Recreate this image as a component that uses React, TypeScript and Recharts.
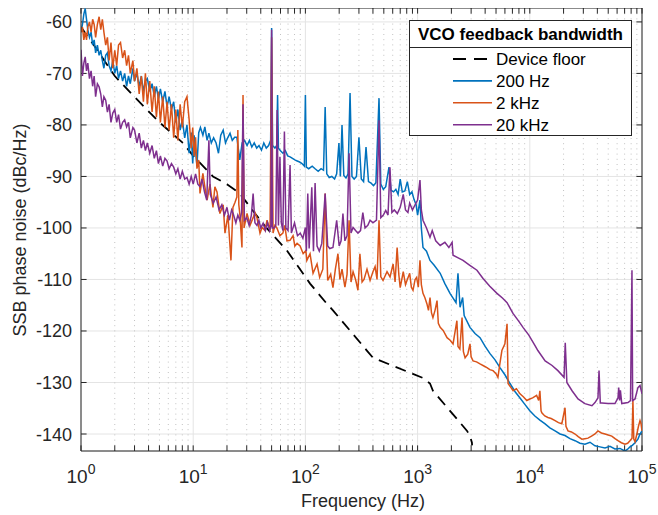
import React from 'react';
import { LineChart, Line, XAxis, YAxis, CartesianGrid, ReferenceLine, Legend } from 'recharts';

const FONT = "'Liberation Sans', Arial, Helvetica, sans-serif";
const AXIS_COLOR = '#262626';

// Axes
const decadeTicks = [1, 10, 100, 1000, 10000, 100000];
const minorMultipliers = [2, 3, 4, 5, 6, 7, 8, 9];
const dbTicks = [-140, -130, -120, -110, -100, -90, -80, -70, -60];
const dbDomain: [number, number] = [-143.3, -57.3];

const seriesNames = ['Device floor', '200 Hz', '2 kHz', '20 kHz'];
const seriesColors = ['#000000', '#0072BD', '#D95319', '#7E2F8E'];
const legendTitle = 'VCO feedback bandwidth';

// [frequency Hz, SSB phase noise dBc/Hz]
const deviceFloor: [number, number][] = [
  [1, -61], [1.3, -64.5], [2, -70.5], [3.2, -75.2], [5, -79.5], [8.1, -83.5], [10, -86], [15, -90], [20, -91.5],
  [26, -93.3], [35, -97], [45, -100], [68, -104.3], [110, -110.8], [155, -114.7], [176, -116],
  [353, -123.8], [400, -125.2], [1110, -129.1], [1290, -130.2], [1370, -131.6], [2760, -139.4],
  [2930, -140.4], [3050, -141.7], [3060, -142.2],
];

const bw200: [number, number][] = [
  [1.00, -62.0], [1.03, -60.5], [1.06, -58.5], [1.09, -57.4], [1.12, -59.5], [1.15, -61.5], [1.19, -63.0], [1.23, -62.0],
  [1.27, -64.5], [1.31, -63.5], [1.35, -66.0], [1.40, -64.5], [1.45, -66.5], [1.50, -65.5], [1.55, -67.5], [1.60, -69.0],
  [1.66, -66.5], [1.72, -66.0], [1.78, -68.5], [1.85, -69.5], [1.92, -67.5], [2.00, -70.0], [2.08, -68.5], [2.16, -71.0],
  [2.25, -69.5], [2.35, -71.5], [2.45, -70.0], [2.55, -72.5], [2.65, -70.5], [2.75, -72.0], [2.90, -69.0], [3.00, -71.5],
  [3.15, -70.0], [3.30, -72.5], [3.45, -70.5], [3.60, -73.5], [3.75, -71.5], [3.90, -71.0], [4.10, -73.5], [4.30, -72.0],
  [4.50, -74.5], [4.70, -72.5], [4.90, -75.0], [5.10, -73.0], [5.35, -75.5], [5.60, -73.5], [5.85, -76.5], [6.10, -74.5],
  [6.40, -77.0], [6.70, -75.5], [7.00, -79.5], [7.30, -77.0], [7.65, -81.0], [8.00, -79.0], [8.40, -82.5], [8.80, -80.0],
  [9.20, -85.5], [9.60, -81.5], [9.90, -87.5], [10.2, -82.0], [10.5, -85.0], [10.8, -88.0], [11.2, -81.5], [11.6, -80.5],
  [12.2, -82.0], [12.7, -80.4], [13.3, -83.0], [13.8, -81.6], [14.5, -83.5], [15.2, -82.5], [16.0, -83.5], [16.8, -85.5],
  [17.6, -82.0], [18.5, -81.0], [19.4, -83.5], [20.3, -82.5], [21.3, -81.6], [22.3, -83.0], [23.4, -82.4], [24.5, -82.4],
  [26.0, -86.8], [27.3, -83.5], [28.7, -83.0], [30.2, -84.0], [31.7, -83.0], [33.3, -84.3], [35.0, -83.5], [36.8, -84.5],
  [38.6, -84.0], [40.6, -84.9], [42.6, -83.5], [44.8, -84.5], [47.0, -84.0], [49.0, -83.0], [50.0, -61.2], [51.0, -84.0],
  [53.5, -84.5], [55.5, -84.0], [56.5, -74.2], [57.5, -84.5], [60.0, -85.0], [63.0, -85.5], [66.2, -85.0], [69.5, -86.0],
  [73.0, -86.2], [76.7, -86.5], [80.5, -86.8], [84.5, -87.0], [88.8, -87.2], [93.2, -87.5], [97.9, -88.0], [100, -74.2],
  [102, -88.2], [107, -88.5], [115, -88.0], [122, -88.5], [130, -89.0], [138, -88.5], [145, -88.8], [150, -76.5],
  [155, -89.5], [163, -90.2], [172, -90.0], [182, -90.5], [190, -89.5], [199, -83.5], [205, -90.0], [212, -80.0],
  [220, -89.8], [230, -90.3], [240, -89.5], [250, -73.8], [260, -90.0], [272, -90.5], [285, -90.0], [300, -82.4],
  [315, -90.5], [330, -91.0], [347, -84.3], [365, -91.0], [385, -91.3], [405, -91.8], [425, -91.2], [453, -74.8],
  [470, -91.5], [495, -92.5], [520, -92.0], [556, -88.2], [580, -92.7], [610, -93.0], [640, -92.5], [670, -93.5],
  [700, -90.5], [730, -93.0], [770, -92.8], [810, -91.0], [850, -93.5], [890, -93.0], [930, -94.5], [970, -95.5],
  [1000, -97.5], [1050, -94.6], [1080, -100.0], [1117, -103.8], [1200, -104.5], [1290, -106.3], [1400, -107.2],
  [1590, -108.8], [1750, -110.8], [1945, -112.7], [2200, -114.5], [2290, -108.8], [2390, -115.4], [2520, -113.5],
  [2600, -117.0], [2930, -119.3], [3250, -120.5], [3600, -121.3], [4000, -123.0], [4420, -124.4], [4900, -125.6],
  [5420, -127.1], [6000, -128.5], [6660, -130.2], [7400, -131.8], [8180, -133.0], [9000, -134.2], [10000, -135.5],
  [11100, -136.5], [12300, -137.3], [13600, -138.0], [15100, -138.8], [16800, -139.4], [18600, -140.0], [20600, -140.3],
  [22800, -140.9], [25300, -141.3], [28000, -141.8], [31000, -142.0], [34400, -141.6], [38100, -142.3], [42200, -142.5],
  [46800, -142.7], [51800, -142.4], [57400, -142.9], [63600, -142.8], [70500, -143.3], [74000, -143.0], [78100, -142.5],
  [82000, -142.2], [86700, -141.7], [92000, -141.0], [96000, -140.0], [100000, -139.4],
];

const bw2k: [number, number][] = [
  [1.00, -62.0], [1.03, -61.0], [1.06, -63.5], [1.09, -62.0], [1.12, -63.5], [1.15, -61.0], [1.19, -60.0], [1.23, -62.0],
  [1.27, -59.5], [1.31, -60.5], [1.35, -63.0], [1.40, -60.5], [1.45, -59.0], [1.50, -61.5], [1.55, -59.5], [1.60, -62.0],
  [1.66, -64.5], [1.72, -63.0], [1.78, -67.5], [1.85, -64.0], [1.92, -69.0], [2.00, -65.5], [2.08, -68.5], [2.16, -64.5],
  [2.25, -64.0], [2.35, -67.0], [2.45, -65.5], [2.55, -68.5], [2.65, -66.5], [2.75, -70.0], [2.90, -67.5], [3.00, -71.5],
  [3.15, -69.0], [3.30, -74.0], [3.45, -70.5], [3.60, -75.5], [3.75, -70.0], [3.90, -76.0], [4.10, -71.5], [4.30, -77.5],
  [4.50, -72.5], [4.70, -78.5], [4.90, -73.5], [5.10, -79.5], [5.35, -74.5], [5.60, -80.5], [5.85, -75.5], [6.10, -81.0],
  [6.40, -76.0], [6.70, -82.5], [7.00, -77.0], [7.30, -83.0], [7.65, -76.0], [8.00, -80.5], [8.40, -75.5], [8.80, -74.5],
  [9.20, -79.0], [9.60, -84.5], [9.90, -80.5], [10.2, -86.0], [10.5, -82.4], [10.8, -88.5], [11.2, -86.8], [11.5, -93.3],
  [12.2, -89.4], [12.7, -92.0], [13.3, -94.6], [14.1, -91.5], [15.0, -96.0], [15.6, -92.0], [16.3, -93.0], [17.3, -97.2],
  [18.5, -95.5], [19.2, -101.0], [20.4, -97.5], [21.7, -106.3], [22.6, -96.0], [23.6, -95.0], [24.5, -94.0], [25.0, -81.0],
  [25.5, -95.5], [26.1, -97.5], [27.2, -103.8], [27.8, -74.2], [28.4, -100.0], [29.0, -99.0], [30.2, -97.2], [32.1, -99.5],
  [34.2, -98.0], [35.5, -97.0], [37.0, -98.0], [39.4, -101.0], [41.1, -99.9], [43.7, -100.5], [45.5, -98.5], [48.4, -100.5],
  [50.0, -63.0], [51.5, -101.0], [53.5, -99.5], [55.7, -100.0], [59.3, -101.5], [63.0, -101.0], [65.5, -99.5], [68.5, -102.5],
  [72.9, -102.4], [77.6, -101.5], [80.5, -103.5], [84.3, -103.0], [89.7, -103.5], [95.5, -105.0], [101, -104.4], [103, -106.3],
  [110, -105.0], [117, -108.8], [127, -107.0], [134, -109.6], [143, -108.0], [150, -93.3], [158, -110.2], [168, -109.0],
  [176, -111.6], [185, -108.0], [195, -105.0], [203, -110.0], [212, -108.0], [225, -111.5], [235, -109.0], [245, -98.5],
  [255, -110.5], [266, -108.5], [280, -110.0], [294, -112.1], [306, -105.0], [320, -110.5], [333, -110.0], [354, -108.0],
  [377, -110.2], [400, -108.5], [418, -107.5], [435, -110.0], [453, -98.5], [470, -109.5], [492, -110.2], [534, -108.5],
  [568, -109.5], [605, -107.0], [630, -110.5], [657, -103.8], [680, -109.0], [700, -111.6], [745, -108.5], [780, -111.0],
  [810, -110.0], [850, -108.8], [880, -111.5], [910, -112.1], [950, -110.0], [980, -109.6], [1015, -111.5], [1050, -106.3],
  [1080, -111.0], [1117, -112.7], [1160, -113.5], [1210, -114.7], [1250, -116.0], [1290, -113.5], [1330, -116.5],
  [1370, -117.4], [1430, -116.0], [1490, -114.1], [1530, -118.5], [1590, -119.3], [1690, -119.9], [1830, -121.3],
  [1950, -121.8], [2070, -122.5], [2240, -118.0], [2290, -123.0], [2380, -123.5], [2490, -117.4], [2560, -124.0],
  [2650, -125.2], [2800, -124.5], [2930, -122.5], [3000, -125.0], [3120, -125.8], [3350, -126.0], [3600, -126.4],
  [3900, -126.8], [4150, -127.1], [4400, -127.5], [4700, -127.7], [5000, -128.3], [5200, -129.0], [5400, -126.5],
  [5640, -123.8], [6000, -122.5], [6270, -118.6], [6350, -125.0], [6400, -130.2], [6800, -131.0], [7100, -131.6],
  [7600, -131.2], [8180, -132.2], [8800, -132.8], [9400, -133.5], [10000, -133.2], [10600, -133.0], [11500, -132.5],
  [12000, -133.5], [12300, -131.6], [12600, -135.5], [12800, -135.9], [13600, -136.5], [14500, -136.8], [15500, -137.0],
  [16800, -137.4], [18000, -137.8], [19300, -138.0], [20600, -134.9], [21000, -138.5], [21900, -139.4], [23500, -139.6],
  [25300, -140.0], [27000, -140.5], [29100, -141.0], [31000, -140.9], [33000, -140.8], [35500, -140.4], [38100, -140.0],
  [40500, -139.4], [43500, -139.8], [46800, -140.0], [50000, -140.2], [53800, -140.4], [57500, -140.9], [61100, -141.3],
  [65500, -141.7], [70500, -142.0], [74500, -141.8], [78100, -141.3], [81500, -140.8], [83000, -133.5], [84500, -141.0],
  [86700, -141.5], [90000, -140.0], [93000, -138.5], [96000, -137.4], [98000, -138.0], [100000, -139.4],
];

const bw20k: [number, number][] = [
  [1.00, -65.4], [1.03, -70.5], [1.06, -68.0], [1.09, -66.8], [1.12, -69.5], [1.15, -68.0], [1.19, -71.0], [1.23, -69.5],
  [1.27, -72.5], [1.31, -70.5], [1.35, -74.5], [1.40, -72.0], [1.45, -72.6], [1.50, -74.0], [1.55, -76.5], [1.60, -74.5],
  [1.66, -75.2], [1.72, -77.5], [1.78, -76.0], [1.85, -79.5], [1.92, -77.7], [2.00, -77.0], [2.08, -79.5], [2.16, -78.0],
  [2.25, -80.8], [2.35, -79.5], [2.45, -79.0], [2.55, -80.4], [2.65, -79.5], [2.75, -82.5], [2.90, -80.5], [3.00, -81.0],
  [3.15, -83.5], [3.30, -81.6], [3.45, -84.5], [3.60, -83.0], [3.75, -85.0], [3.90, -83.5], [4.10, -85.5], [4.30, -84.0],
  [4.50, -86.5], [4.70, -85.0], [4.90, -87.5], [5.10, -86.0], [5.35, -88.0], [5.60, -86.5], [5.85, -87.0], [6.10, -88.5],
  [6.40, -87.5], [6.70, -88.2], [7.00, -89.5], [7.30, -88.5], [7.65, -90.5], [8.00, -89.0], [8.40, -90.5], [8.80, -90.2],
  [9.20, -91.5], [9.60, -90.0], [10.0, -91.5], [10.5, -89.5], [11.0, -91.5], [11.5, -92.0], [12.0, -90.5], [12.6, -93.0],
  [13.2, -94.6], [13.8, -83.0], [14.2, -93.5], [15.1, -95.2], [16.0, -94.0], [17.0, -96.5], [18.0, -95.5], [19.0, -97.5],
  [20.0, -96.0], [21.0, -98.5], [22.0, -96.5], [22.7, -97.2], [24.0, -99.0], [25.0, -97.5], [26.0, -98.5], [27.0, -97.0],
  [27.8, -76.0], [28.6, -98.5], [30.0, -98.0], [31.5, -99.5], [33.0, -97.5], [34.2, -93.3], [35.5, -99.0], [37.0, -99.5],
  [38.5, -98.5], [40.0, -100.0], [42.0, -99.1], [44.0, -100.5], [46.0, -99.0], [48.0, -100.5], [49.3, -99.5], [50.0, -61.5],
  [50.7, -100.0], [52.5, -100.0], [54.5, -99.5], [56.0, -77.1], [57.5, -99.5], [59.3, -86.2], [61.0, -99.0], [63.0, -100.5],
  [65.0, -81.3], [67.0, -100.0], [70.0, -100.5], [73.0, -87.8], [75.0, -101.0], [80.0, -99.0], [85.0, -101.5], [90.0, -101.0],
  [95.0, -102.0], [100, -99.9], [102, -104.5], [105, -93.3], [108, -104.0], [114, -92.1], [118, -104.5], [122, -91.3],
  [127, -103.5], [133, -104.5], [140, -103.0], [150, -93.3], [158, -103.5], [165, -104.0], [176, -103.8], [190, -98.5],
  [200, -103.5], [208, -102.5], [216, -97.2], [225, -102.5], [235, -101.5], [245, -85.5], [255, -101.0], [266, -99.9],
  [280, -100.5], [294, -101.0], [310, -100.5], [325, -97.0], [340, -100.0], [360, -99.5], [377, -98.5], [400, -99.0],
  [430, -98.5], [453, -79.1], [470, -98.0], [495, -97.5], [520, -96.6], [545, -97.5], [567, -88.2], [590, -97.0],
  [620, -96.5], [660, -97.2], [700, -96.0], [745, -93.5], [780, -96.5], [820, -97.0], [850, -95.2], [900, -96.5],
  [950, -95.5], [1000, -94.6], [1050, -90.7], [1080, -96.5], [1117, -98.5], [1200, -100.0], [1290, -101.8], [1350, -100.5],
  [1450, -102.5], [1590, -103.4], [1750, -102.8], [1900, -103.8], [2030, -102.8], [2070, -105.3], [2300, -105.8],
  [2540, -106.3], [2900, -107.2], [3380, -108.2], [3830, -109.8], [4400, -111.3], [5100, -112.7], [5700, -113.6],
  [6270, -114.5], [7080, -116.6], [7900, -118.0], [8700, -119.3], [9800, -120.8], [11100, -122.8], [11800, -123.8],
  [13700, -125.8], [15800, -126.7], [17800, -127.7], [20200, -129.0], [20700, -122.3], [21400, -130.0], [23800, -131.6],
  [26900, -133.2], [31000, -134.1], [35800, -134.5], [38100, -133.9], [40500, -133.0], [41400, -127.7], [42500, -134.0],
  [44000, -134.0], [49800, -134.1], [57400, -134.1], [61100, -133.0], [62000, -131.0], [63200, -133.5], [64200, -131.5],
  [66000, -134.1], [75000, -133.9], [79000, -133.5], [81400, -108.2], [82500, -133.5], [86700, -133.2], [92000, -131.0],
  [96000, -130.6], [100000, -132.2],
];

const seriesPoints = [deviceFloor, bw200, bw2k, bw20k];

const toRows = (pts: [number, number][]) => pts.map(([f, v]) => ({ f, v }));

const minorTicks = decadeTicks.slice(0, -1).flatMap((d) => minorMultipliers.map((m) => d * m));

const XTick = (props: any) => {
  const { x, y, payload } = props;
  const exp = String(Math.round(Math.log10(payload.value)));
  return (
    <text x={x} y={y + 32} textAnchor="middle" fill={AXIS_COLOR} fontFamily={FONT} fontSize={19}>
      10<tspan dy={-9} fontSize={14}>{exp}</tspan>
    </text>
  );
};

const YTick = (props: any) => {
  const { x, y, payload } = props;
  return (
    <text x={x} y={y} dy={6.5} textAnchor="end" fill={AXIS_COLOR} fontFamily={FONT} fontSize={18}>
      {payload.value}
    </text>
  );
};

const LegendBox = () => (
  <svg width={223} height={116} style={{ display: 'block' }}>
    <rect x={0.5} y={0.5} width={222} height={115} fill="#ffffff" stroke={AXIS_COLOR} strokeWidth={1} />
    <text x={111.5} y={20} textAnchor="middle" fontFamily={FONT} fontWeight="bold" fontSize={17} fill="#000">
      {legendTitle}
    </text>
    <line x1={0.5} x2={222.5} y1={27.5} y2={27.5} stroke={AXIS_COLOR} strokeWidth={1} />
    {seriesNames.map((name, i) => {
      const base = 45 + i * 21.9;
      return (
        <g key={name}>
          <line
            x1={44}
            x2={83}
            y1={base - 6}
            y2={base - 6}
            stroke={seriesColors[i]}
            strokeWidth={i === 0 ? 2 : 1.6}
            strokeDasharray={i === 0 ? '13 8' : undefined}
          />
          <text x={87} y={base} fontFamily={FONT} fontSize={17} fill="#000">
            {name}
          </text>
        </g>
      );
    })}
  </svg>
);

const TICK_DB = 1.09;
const TICK_FACTOR = 1.122;

export default function App() {
  const [yMin, yMax] = dbDomain;
  const xMin = decadeTicks[0];
  const xMax = decadeTicks[decadeTicks.length - 1];
  const drawOrder = [0, 1, 2, 3];
  const allXTicks = decadeTicks.concat(minorTicks);
  return (
    <div style={{ width: 658, height: 515, position: 'relative', overflow: 'hidden', background: '#ffffff' }}>
      <style>{'html, body { margin: 0; padding: 0; overflow: hidden; }'}</style>
      <div style={{ position: 'absolute', left: 8, top: 8, width: 650, height: 507 }}>
        <LineChart width={650} height={507} margin={{ top: 0, right: 16, bottom: 0, left: 0 }}>
          <CartesianGrid stroke="#e4e4e4" strokeWidth={1} />
          <XAxis
            dataKey="f"
            type="number"
            scale="log"
            domain={[xMin, xMax]}
            ticks={decadeTicks}
            interval={0}
            allowDataOverflow
            tick={<XTick />}
            tickLine={false}
            tickSize={0}
            tickMargin={0}
            height={64}
            axisLine={{ stroke: AXIS_COLOR }}
          />
          <YAxis
            type="number"
            domain={dbDomain}
            ticks={dbTicks}
            interval={0}
            allowDataOverflow
            tick={<YTick />}
            tickLine={false}
            tickSize={0}
            tickMargin={9}
            width={73}
            axisLine={{ stroke: AXIS_COLOR }}
          />
          {minorTicks.map((m) => (
            <ReferenceLine key={'mg' + m} x={m} stroke="#c2c2c2" strokeDasharray="1 4.2" strokeWidth={1} />
          ))}
          <ReferenceLine y={yMax} stroke={AXIS_COLOR} />
          <ReferenceLine x={xMax} stroke={AXIS_COLOR} />
          {allXTicks.map((t) => (
            <ReferenceLine key={'bt' + t} segment={[{ x: t, y: yMin }, { x: t, y: yMin + TICK_DB }]} stroke={AXIS_COLOR} />
          ))}
          {allXTicks.map((t) => (
            <ReferenceLine key={'tt' + t} segment={[{ x: t, y: yMax }, { x: t, y: yMax - TICK_DB }]} stroke={AXIS_COLOR} />
          ))}
          {dbTicks.map((v) => (
            <ReferenceLine key={'lt' + v} segment={[{ x: xMin, y: v }, { x: xMin * TICK_FACTOR, y: v }]} stroke={AXIS_COLOR} />
          ))}
          {dbTicks.map((v) => (
            <ReferenceLine key={'rt' + v} segment={[{ x: xMax / TICK_FACTOR, y: v }, { x: xMax, y: v }]} stroke={AXIS_COLOR} />
          ))}
          {drawOrder.map((i) => (
            <Line
              key={seriesNames[i]}
              name={seriesNames[i]}
              data={toRows(seriesPoints[i])}
              dataKey="v"
              type="linear"
              stroke={seriesColors[i]}
              strokeWidth={i === 0 ? 1.8 : 1.5}
              strokeDasharray={i === 0 ? '11 7' : undefined}
              dot={false}
              activeDot={false}
              isAnimationActive={false}
            />
          ))}
          <Legend
            layout="vertical"
            align="center"
            verticalAlign="middle"
            wrapperStyle={{ left: 401, top: 12, width: 223, height: 116 }}
            content={() => <LegendBox />}
          />
        </LineChart>
        <svg width={650} height={507} style={{ position: 'absolute', left: 0, top: 0, pointerEvents: 'none' }}>
          <text x={355} y={499} textAnchor="middle" fontFamily={FONT} fontSize={18} fill={AXIS_COLOR}>
            Frequency (Hz)
          </text>
          <text
            x={18}
            y={222}
            transform="rotate(-90 18 222)"
            textAnchor="middle"
            fontFamily={FONT}
            fontSize={18}
            fill={AXIS_COLOR}
          >
            SSB phase noise (dBc/Hz)
          </text>
        </svg>
      </div>
    </div>
  );
}
